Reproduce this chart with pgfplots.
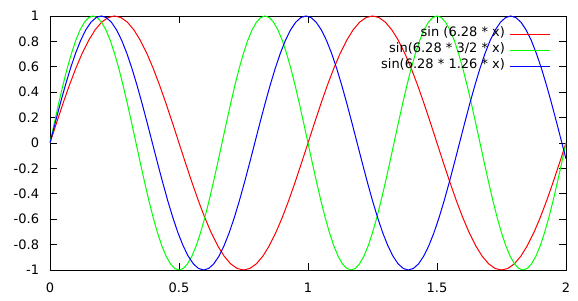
\documentclass[border=0pt]{standalone}
\usepackage{pgfplots}
\pgfplotsset{compat=1.18}
\usepackage{fontspec}
\setmainfont{DejaVu Sans}
\definecolor{gred}{HTML}{FF0000}
\definecolor{ggreen}{HTML}{00FF00}
\definecolor{gblue}{HTML}{0000FF}
\begin{document}
\begin{tikzpicture}
\path[use as bounding box] (-50bp,-31bp) rectangle (528bp,270bp);
\begin{axis}[
  at={(0bp,0bp)}, anchor=south west,
  scale only axis, width=516bp, height=254bp,
  xmin=0, xmax=2, ymin=-1, ymax=1,
  axis line style={black, line width=0.9bp},
  xtick={0,0.5,1,1.5,2},
  xticklabels={0,0.5,1,1.5,2},
  ytick={-1,-0.8,-0.6,-0.4,-0.2,0,0.2,0.4,0.6,0.8,1},
  yticklabels={-1,-0.8,-0.6,-0.4,-0.2,0,0.2,0.4,0.6,0.8,1},
  tick align=inside, major tick length=7bp,
  tick style={black, line width=0.9bp},
  ticklabel style={font=\fontsize{13bp}{15bp}\selectfont, inner sep=0pt},
  yticklabel style={xshift=-10.7bp},
  xticklabel style={yshift=-13bp},
  legend cell align=right,
  legend plot pos=right,
  legend image code/.code={\draw[#1] (0bp,0bp) -- (40bp,0bp);},
  legend style={draw=none, fill=none, inner sep=0pt, outer sep=0pt,
    at={(rel axis cs:1,1)}, anchor=north east, xshift=-16bp, yshift=-10bp,
    row sep=0pt, column sep=0pt,
    font=\fontsize{13bp}{15bp}\selectfont,
    nodes={inner xsep=4bp, inner ysep=0pt, text height=10.5bp, text depth=5.5bp}},
]
\addplot[color=gred, line width=1bp] coordinates {
(0,0) (0.025,0.1564) (0.05,0.3090) (0.075,0.4540) (0.1,0.5878) (0.125,0.7071) (0.15,0.8090) (0.175,0.8910) (0.2,0.9511) (0.225,0.9877)
(0.25,1) (0.275,0.9877) (0.3,0.9511) (0.325,0.8910) (0.35,0.8090) (0.375,0.7071) (0.4,0.5878) (0.425,0.4540) (0.45,0.3090) (0.475,0.1564)
(0.5,0) (0.525,-0.1564) (0.55,-0.3090) (0.575,-0.4540) (0.6,-0.5878) (0.625,-0.7071) (0.65,-0.8090) (0.675,-0.8910) (0.7,-0.9511) (0.725,-0.9877)
(0.75,-1) (0.775,-0.9877) (0.8,-0.9511) (0.825,-0.8910) (0.85,-0.8090) (0.875,-0.7071) (0.9,-0.5878) (0.925,-0.4540) (0.95,-0.3090) (0.975,-0.1564)
(1,0) (1.025,0.1564) (1.05,0.3090) (1.075,0.4540) (1.1,0.5878) (1.125,0.7071) (1.15,0.8090) (1.175,0.8910) (1.2,0.9511) (1.225,0.9877)
(1.25,1) (1.275,0.9877) (1.3,0.9511) (1.325,0.8910) (1.35,0.8090) (1.375,0.7071) (1.4,0.5878) (1.425,0.4540) (1.45,0.3090) (1.475,0.1564)
(1.5,0) (1.525,-0.1564) (1.55,-0.3090) (1.575,-0.4540) (1.6,-0.5878) (1.625,-0.7071) (1.65,-0.8090) (1.675,-0.8910) (1.7,-0.9511) (1.725,-0.9877)
(1.75,-1) (1.775,-0.9877) (1.8,-0.9511) (1.825,-0.8910) (1.85,-0.8090) (1.875,-0.7071) (1.9,-0.5878) (1.925,-0.4540) (1.95,-0.3090) (1.975,-0.1564)
(2,0)
};
\addlegendentry{sin (6.28 * x)}
\addplot[color=ggreen, line width=1bp] coordinates {
(0,0) (0.01667,0.1564) (0.03333,0.3090) (0.05,0.4540) (0.06667,0.5878) (0.08333,0.7071) (0.1,0.8090) (0.11667,0.8910) (0.13333,0.9511) (0.15,0.9877)
(0.16667,1) (0.18333,0.9877) (0.2,0.9511) (0.21667,0.8910) (0.23333,0.8090) (0.25,0.7071) (0.26667,0.5878) (0.28333,0.4540) (0.3,0.3090) (0.31667,0.1564)
(0.33333,0) (0.35,-0.1564) (0.36667,-0.3090) (0.38333,-0.4540) (0.4,-0.5878) (0.41667,-0.7071) (0.43333,-0.8090) (0.45,-0.8910) (0.46667,-0.9511) (0.48333,-0.9877)
(0.5,-1) (0.51667,-0.9877) (0.53333,-0.9511) (0.55,-0.8910) (0.56667,-0.8090) (0.58333,-0.7071) (0.6,-0.5878) (0.61667,-0.4540) (0.63333,-0.3090) (0.65,-0.1564)
(0.66667,0) (0.68333,0.1564) (0.7,0.3090) (0.71667,0.4540) (0.73333,0.5878) (0.75,0.7071) (0.76667,0.8090) (0.78333,0.8910) (0.8,0.9511) (0.81667,0.9877)
(0.83333,1) (0.85,0.9877) (0.86667,0.9511) (0.88333,0.8910) (0.9,0.8090) (0.91667,0.7071) (0.93333,0.5878) (0.95,0.4540) (0.96667,0.3090) (0.98333,0.1564)
(1,0) (1.01667,-0.1564) (1.03333,-0.3090) (1.05,-0.4540) (1.06667,-0.5878) (1.08333,-0.7071) (1.1,-0.8090) (1.11667,-0.8910) (1.13333,-0.9511) (1.15,-0.9877)
(1.16667,-1) (1.18333,-0.9877) (1.2,-0.9511) (1.21667,-0.8910) (1.23333,-0.8090) (1.25,-0.7071) (1.26667,-0.5878) (1.28333,-0.4540) (1.3,-0.3090) (1.31667,-0.1564)
(1.33333,0) (1.35,0.1564) (1.36667,0.3090) (1.38333,0.4540) (1.4,0.5878) (1.41667,0.7071) (1.43333,0.8090) (1.45,0.8910) (1.46667,0.9511) (1.48333,0.9877)
(1.5,1) (1.51667,0.9877) (1.53333,0.9511) (1.55,0.8910) (1.56667,0.8090) (1.58333,0.7071) (1.6,0.5878) (1.61667,0.4540) (1.63333,0.3090) (1.65,0.1564)
(1.66667,0) (1.68333,-0.1564) (1.7,-0.3090) (1.71667,-0.4540) (1.73333,-0.5878) (1.75,-0.7071) (1.76667,-0.8090) (1.78333,-0.8910) (1.8,-0.9511) (1.81667,-0.9877)
(1.83333,-1) (1.85,-0.9877) (1.86667,-0.9511) (1.88333,-0.8910) (1.9,-0.8090) (1.91667,-0.7071) (1.93333,-0.5878) (1.95,-0.4540) (1.96667,-0.3090) (1.98333,-0.1564)
(2,0)
};
\addlegendentry{sin(6.28 * 3/2 * x)}
\addplot[color=gblue, line width=1bp] coordinates {
(0,0) (0.01984,0.1564) (0.03968,0.3090) (0.05952,0.4540) (0.07937,0.5878) (0.09921,0.7071) (0.11905,0.8090) (0.13889,0.8910) (0.15873,0.9511) (0.17857,0.9877)
(0.19841,1) (0.21825,0.9877) (0.23810,0.9511) (0.25794,0.8910) (0.27778,0.8090) (0.29762,0.7071) (0.31746,0.5878) (0.33730,0.4540) (0.35714,0.3090) (0.37698,0.1564)
(0.39683,0) (0.41667,-0.1564) (0.43651,-0.3090) (0.45635,-0.4540) (0.47619,-0.5878) (0.49603,-0.7071) (0.51587,-0.8090) (0.53571,-0.8910) (0.55556,-0.9511) (0.57540,-0.9877)
(0.59524,-1) (0.61508,-0.9877) (0.63492,-0.9511) (0.65476,-0.8910) (0.67460,-0.8090) (0.69444,-0.7071) (0.71429,-0.5878) (0.73413,-0.4540) (0.75397,-0.3090) (0.77381,-0.1564)
(0.79365,0) (0.81349,0.1564) (0.83333,0.3090) (0.85317,0.4540) (0.87302,0.5878) (0.89286,0.7071) (0.91270,0.8090) (0.93254,0.8910) (0.95238,0.9511) (0.97222,0.9877)
(0.99206,1) (1.01190,0.9877) (1.03175,0.9511) (1.05159,0.8910) (1.07143,0.8090) (1.09127,0.7071) (1.11111,0.5878) (1.13095,0.4540) (1.15079,0.3090) (1.17063,0.1564)
(1.19048,0) (1.21032,-0.1564) (1.23016,-0.3090) (1.25000,-0.4540) (1.26984,-0.5878) (1.28968,-0.7071) (1.30952,-0.8090) (1.32937,-0.8910) (1.34921,-0.9511) (1.36905,-0.9877)
(1.38889,-1) (1.40873,-0.9877) (1.42857,-0.9511) (1.44841,-0.8910) (1.46825,-0.8090) (1.48810,-0.7071) (1.50794,-0.5878) (1.52778,-0.4540) (1.54762,-0.3090) (1.56746,-0.1564)
(1.58730,0) (1.60714,0.1564) (1.62698,0.3090) (1.64683,0.4540) (1.66667,0.5878) (1.68651,0.7071) (1.70635,0.8090) (1.72619,0.8910) (1.74603,0.9511) (1.76587,0.9877)
(1.78571,1) (1.80556,0.9877) (1.82540,0.9511) (1.84524,0.8910) (1.86508,0.8090) (1.88492,0.7071) (1.90476,0.5878) (1.92460,0.4540) (1.94444,0.3090) (1.96429,0.1564)
(1.98413,0) (2,-0.1253)
};
\addlegendentry{sin(6.28 * 1.26 * x)}
\end{axis}
\end{tikzpicture}
\end{document}
